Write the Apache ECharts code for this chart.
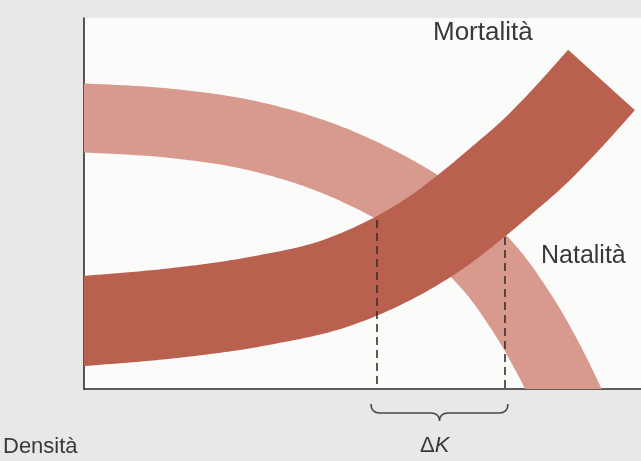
<!DOCTYPE html>
<html>
<head>
<meta charset="utf-8">
<script src="https://cdn.jsdelivr.net/npm/echarts@6/dist/echarts.min.js"></script>
<style>
  html, body { margin: 0; padding: 0; background: #e8e8e6; }
  #chart { width: 641px; height: 461px; }
</style>
</head>
<body>
<div id="chart"></div>
<script>
// Density on x (0-100), rate on y (0-100); points trace the centre of each band.
const mortalitaX = [-4.31, 0, 15.44, 30.88, 46.32, 61.76, 77.20, 85.10, 92.91];
const mortalitaY = [17.79, 18.33, 20.35, 23.58, 29.11, 40.70, 59.03, 70.35, 83.29];
const natalitaX = [-4.31, 0, 15.44, 30.88, 46.32, 61.76, 71.99, 78.28, 83.30, 88.15];
const natalitaY = [73.05, 73.05, 71.62, 68.06, 60.65, 48.25, 33.96, 21.29, 8.36, -6.47];
// Range of carrying capacity K where the two bands overlap
const kBounds = [52.6, 75.58];
const kTops = [45.55, 40.97];

const labels = { mortalita: 'Mortalità', natalita: 'Natalità', density: 'Densità', deltaK: 'ΔK' };

const zip = (xs, ys) => xs.map((x, i) => [x, ys[i]]);
const textColor = '#3a3838';
const font = '"Liberation Sans", Arial, sans-serif';

// Catmull-Rom resampling of pixel points so a thick stroke stays smooth
function catmullRom(pts, steps) {
  const out = [];
  const n = pts.length;
  for (let i = 0; i < n - 1; i++) {
    const p0 = pts[Math.max(i - 1, 0)], p1 = pts[i], p2 = pts[i + 1], p3 = pts[Math.min(i + 2, n - 1)];
    for (let s = 0; s < steps; s++) {
      const t = s / steps, t2 = t * t, t3 = t2 * t;
      const f = (a, b, c, d) => 0.5 * ((2 * b) + (-a + c) * t + (2 * a - 5 * b + 4 * c - d) * t2 + (-a + 3 * b - 3 * c + d) * t3);
      out.push([f(p0[0], p1[0], p2[0], p3[0]), f(p0[1], p1[1], p2[1], p3[1])]);
    }
  }
  out.push(pts[n - 1]);
  return out;
}

// A band: the series' points, mapped through the axes, stroked with a wide butt-capped line
function bandSeries(name, xs, ys, color, width, z) {
  return {
    name: name, type: 'custom', clip: true, z: z,
    data: zip(xs, ys),
    renderItem: function (params, api) {
      if (params.dataIndexInside !== 0) return null;
      const pts = [];
      for (let i = 0; i < params.dataInsideLength; i++) {
        pts.push(api.coord([api.value(0, i), api.value(1, i)]));
      }
      return {
        type: 'polyline',
        shape: { points: catmullRom(pts, 30) },
        style: { fill: null, stroke: color, lineWidth: width, lineCap: 'butt', lineJoin: 'round' }
      };
    }
  };
}

const chart = echarts.init(document.getElementById('chart'), null, { renderer: 'canvas' });

const option = {
  backgroundColor: '#e8e8e6',
  animation: false,
  grid: {
    left: 84, right: 0, top: 18, bottom: 72,
    show: true, backgroundColor: '#fbfbfa', borderWidth: 0
  },
  xAxis: {
    type: 'value', min: 0, max: 100,
    axisLine: { show: true, lineStyle: { color: '#2e2e2e', width: 1.6 } },
    axisTick: { show: false }, axisLabel: { show: false }, splitLine: { show: false }
  },
  yAxis: {
    type: 'value', min: 0, max: 100,
    axisLine: { show: true, lineStyle: { color: '#2e2e2e', width: 1.6 } },
    axisTick: { show: false }, axisLabel: { show: false }, splitLine: { show: false }
  },
  series: [
    bandSeries(labels.natalita, natalitaX, natalitaY, '#d89a8f', 69, 2),
    bandSeries(labels.mortalita, mortalitaX, mortalitaY, '#b9604f', 90, 3),
    ...kBounds.map((k, i) => ({
      type: 'line', data: [[k, kTops[i]], [k, 0]], symbol: 'none', z: 4,
      lineStyle: { color: '#3b2e2b', width: 1.6, type: [8, 5] }
    })),
    {
      // curly brace spanning the K interval, below the x axis
      type: 'custom', z: 5, clip: false,
      data: [[kBounds[0], kBounds[1]]],
      renderItem: function (params, api) {
        const a = api.coord([api.value(0), 0]);
        const b = api.coord([api.value(1), 0]);
        const x1 = a[0] - 6, x2 = b[0] + 3;
        const y0 = a[1] + 15, y1 = a[1] + 24, y2 = a[1] + 32;
        const mid = (x1 + x2) / 2, r = 9;
        const d = `M${x1},${y0} Q${x1},${y1} ${x1 + r},${y1} L${mid - r},${y1} Q${mid},${y1} ${mid},${y2} ` +
                  `M${mid},${y2} Q${mid},${y1} ${mid + r},${y1} L${x2 - r},${y1} Q${x2},${y1} ${x2},${y0}`;
        return {
          type: 'path',
          shape: { pathData: d },
          style: { fill: null, stroke: '#4a4646', lineWidth: 1.6 }
        };
      }
    }
  ],
  graphic: [
    { type: 'text', left: 433, top: 20, style: { text: labels.mortalita, fill: textColor, font: '26px ' + font } },
    { type: 'text', left: 541, top: 244, style: { text: labels.natalita, fill: textColor, font: '25px ' + font } },
    { type: 'text', left: 3, top: 436, style: { text: labels.density, fill: textColor, font: '22px ' + font } },
    {
      type: 'text', left: 420, top: 435,
      style: {
        rich: {
          d: { fill: textColor, font: '22px ' + font },
          k: { fill: textColor, font: 'italic 22px ' + font }
        },
        text: '{d|Δ}{k|K}'
      }
    }
  ]
};

chart.setOption(option);
</script>
</body>
</html>
